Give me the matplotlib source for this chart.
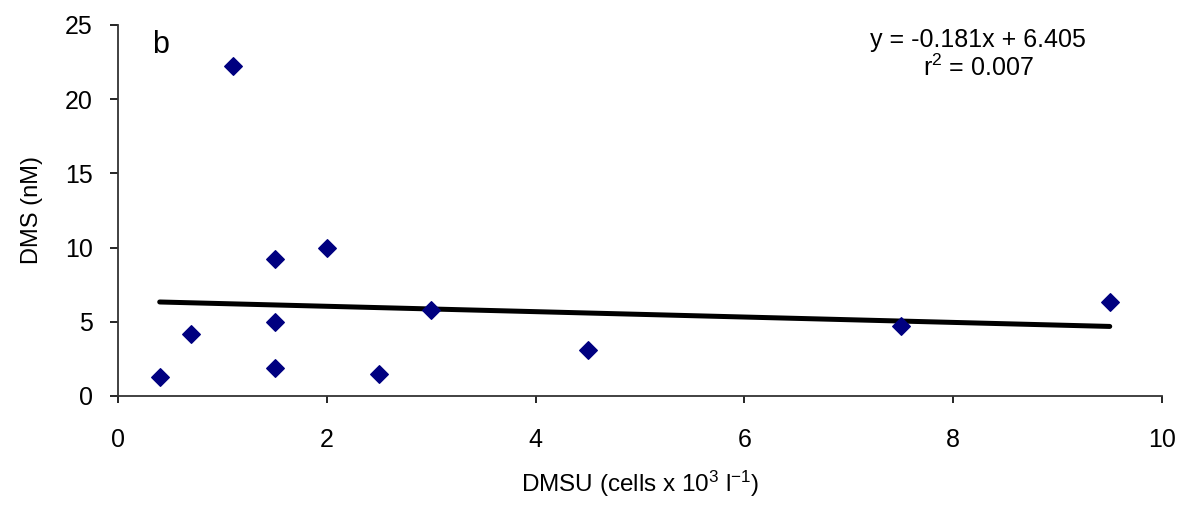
import numpy as np
import matplotlib
matplotlib.use("Agg")
from matplotlib import pyplot as plt

# data
dmsu = [0.4, 0.7, 1.1, 1.5, 1.5, 1.5, 2.0, 2.5, 3.0, 4.5, 7.5, 9.5]
dms = [1.3, 4.2, 22.2, 9.2, 5.0, 1.9, 10.0, 1.5, 5.8, 3.1, 4.7, 6.3]
slope, intercept = -0.181, 6.405
r2 = 0.007

plt.rcParams['font.family'] = ['Liberation Sans', 'DejaVu Sans']
plt.rcParams['mathtext.fontset'] = 'custom'
plt.rcParams['mathtext.rm'] = 'Liberation Sans'
plt.rcParams['mathtext.it'] = 'Liberation Sans:italic'

fig = plt.figure(figsize=(11.83, 5.08), dpi=100)
ax = fig.add_axes([0.0997, 0.2205, 0.8825, 0.7305])

ax.scatter(dmsu, dms, marker='D', s=80, color='#000080', zorder=3)

xfit = np.array([min(dmsu), max(dmsu)])
ax.plot(xfit, slope * xfit + intercept, color='black', lw=3.6, solid_capstyle='round', zorder=2)

ax.set_xlim(0, 10)
ax.set_ylim(0, 25)
ax.set_xticks([0, 2, 4, 6, 8, 10])
ax.set_yticks([0, 5, 10, 15, 20, 25])

for s in ['top', 'right']:
    ax.spines[s].set_visible(False)
for s in ['left', 'bottom']:
    ax.spines[s].set_linewidth(1.3)
    ax.spines[s].set_color('#333333')

ax.tick_params(axis='x', direction='out', length=5, width=1.2, labelsize=18, pad=18)
ax.tick_params(axis='y', direction='out', length=6, width=1.2, labelsize=18, pad=12)

ax.set_xlabel('DMSU (cells x 10$^{3}$ l$^{-1}$)', fontsize=17.5, labelpad=12)
ax.set_ylabel('DMS (nM)', fontsize=17, labelpad=16)

ax.text(0.33, 23.65, 'b', fontsize=22, ha='left', va='center')
ax.text(0.824, 0.92, 'y = -0.181x + 6.405\nr$^{2}$ = 0.007', transform=ax.transAxes,
        fontsize=18, ha='center', va='center', linespacing=1.15)

fig.savefig('out.png', dpi=100)
